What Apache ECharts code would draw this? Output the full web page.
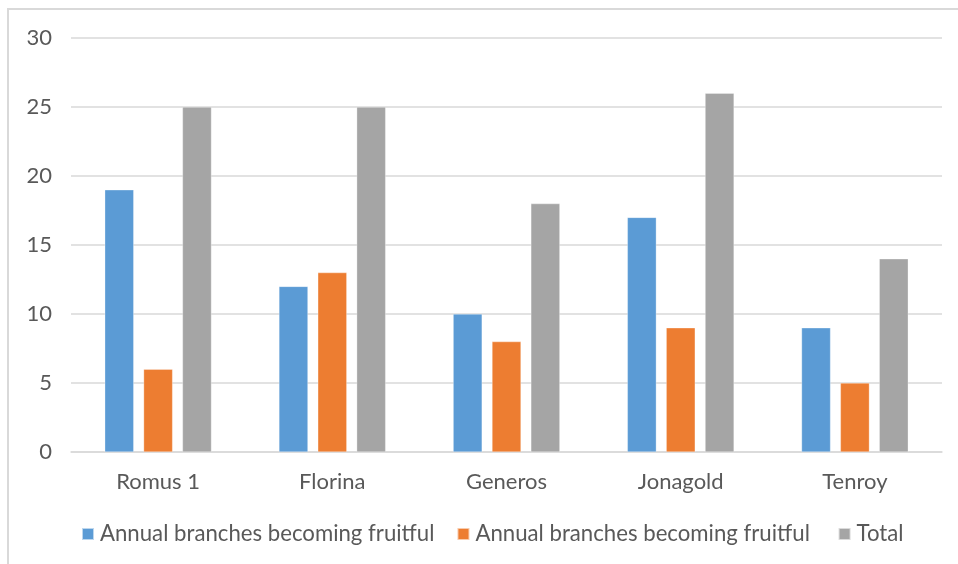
<!DOCTYPE html>
<html>
<head>
<meta charset="utf-8">
<script src="https://cdn.jsdelivr.net/npm/echarts@6/dist/echarts.min.js"></script>
<style>
  html, body { margin: 0; padding: 0; background: #fff; }
  #chart { width: 958px; height: 564px; }
</style>
</head>
<body>
<div id="chart"></div>
<script>
// Apple cultivars and counts of annual branches
const categories = ['Romus 1', 'Florina', 'Generos', 'Jonagold', 'Tenroy'];
const seriesNames = ['Annual branches becoming fruitful', 'Annual branches becoming fruitful ', 'Total'];
const fruitfulA = [19, 12, 10, 17, 9];
const fruitfulB = [6, 13, 8, 9, 5];
const totals = [25, 25, 18, 26, 14];
const yTicks = { min: 0, max: 30, interval: 5 };

const colors = ['#5B9BD5', '#ED7D31', '#A5A5A5'];
const font = 'Lato, "Open Sans", sans-serif';
const textColor = '#595959';

const chart = echarts.init(document.getElementById('chart'), null, { renderer: 'canvas' });

function barSeries(name, data, color) {
  return {
    name: name,
    type: 'bar',
    data: data,
    barWidth: 29,
    barGap: '34%',
    itemStyle: { color: color, borderColor: 'rgba(255,255,255,0.6)', borderWidth: 0.5 },
    emphasis: { disabled: true }
  };
}

chart.setOption({
  animation: false,
  color: colors,
  graphic: [{
    type: 'rect',
    shape: { x: 8, y: 9, width: 1000, height: 700 },
    style: { fill: 'none', stroke: '#d9d9d9', lineWidth: 2 },
    silent: true
  }],
  grid: { left: 71, right: 16, top: 38, bottom: 112, containLabel: false },
  legend: {
    top: 522,
    left: 81,
    padding: 0,
    itemWidth: 12,
    itemHeight: 12,
    itemGap: 22,
    icon: 'rect',
    textStyle: { color: textColor, fontSize: 22.2, fontFamily: font, lineHeight: 24, padding: [0, 0, 0, 1] },
    data: seriesNames
  },
  xAxis: {
    type: 'category',
    data: categories,
    axisLine: { lineStyle: { color: '#d9d9d9', width: 1.5 } },
    axisTick: { show: false },
    axisLabel: { color: textColor, fontSize: 22, fontFamily: font, margin: 19 }
  },
  yAxis: {
    type: 'value',
    min: yTicks.min,
    max: yTicks.max,
    interval: yTicks.interval,
    axisLine: { show: false },
    axisTick: { show: false },
    axisLabel: { color: textColor, fontSize: 22, fontFamily: font, margin: 19 },
    splitLine: { lineStyle: { color: '#d9d9d9', width: 1.5 } }
  },
  series: [
    barSeries(seriesNames[0], fruitfulA, colors[0]),
    barSeries(seriesNames[1], fruitfulB, colors[1]),
    barSeries(seriesNames[2], totals, colors[2])
  ]
});
</script>
</body>
</html>
